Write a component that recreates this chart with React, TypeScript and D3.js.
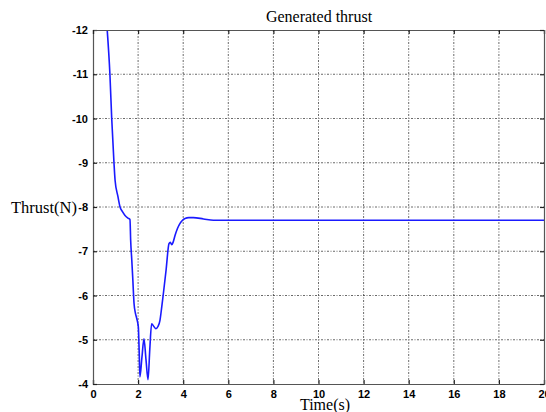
import * as d3 from "d3";
import { useEffect, useRef } from "react";

const width = 546;
const height = 412;

// time (s) and thrust (N)
const time = [0.63, 0.75, 0.83, 0.93, 0.98, 1.1, 1.2, 1.3, 1.42, 1.55, 1.64, 1.67, 1.72, 1.76, 1.82, 1.88, 1.94, 2.01, 2.05, 2.08, 2.17, 2.26, 2.35, 2.44, 2.52, 2.6, 2.7, 2.79, 2.88, 2.97, 3.05, 3.12, 3.24, 3.37, 3.43, 3.49, 3.55, 3.64, 3.75, 3.86, 3.97, 4.08, 4.25, 4.45, 4.9, 5.34, 6, 8, 10, 12, 14, 16, 18, 20];
const thrust = [-12, -11, -10, -9, -8.6, -8.25, -8.0, -7.9, -7.81, -7.75, -7.72, -7.25, -6.8, -6.42, -5.82, -5.6, -5.48, -5.29, -4.7, -4.16, -4.6, -5.02, -4.55, -4.1, -4.8, -5.36, -5.3, -5.25, -5.3, -5.44, -5.75, -6.04, -6.57, -7.17, -7.2, -7.15, -7.2, -7.36, -7.52, -7.63, -7.7, -7.74, -7.76, -7.76, -7.73, -7.7, -7.7, -7.7, -7.7, -7.7, -7.7, -7.7, -7.7, -7.7];
const xTicks = [0, 2, 4, 6, 8, 10, 12, 14, 16, 18, 20];
const yTicks = [-12, -11, -10, -9, -8, -7, -6, -5, -4];

const margin = { top: 30, right: 2, bottom: 28, left: 93 };

const App = () => {
  const ref = useRef<SVGSVGElement>(null);

  useEffect(() => {
    const svg = d3.select(ref.current);
    svg.selectAll("*").remove();

    const x = d3.scaleLinear().domain([0, 20]).range([margin.left, width - margin.right]);
    const y = d3.scaleLinear().domain([-12, -4]).range([margin.top, height - margin.bottom]);
    const [x0, x1] = x.range();
    const [y0, y1] = y.range();

    svg.append("rect").attr("width", width).attr("height", height).attr("fill", "#fff");

    // grid
    const grid = svg.append("g").attr("stroke", "#444").attr("stroke-width", 0.8).attr("stroke-dasharray", "2,1.5,1,1.5");
    grid.selectAll(".gx").data(xTicks.slice(1, -1)).enter().append("line")
      .attr("x1", (d) => x(d)).attr("x2", (d) => x(d)).attr("y1", y0).attr("y2", y1);
    grid.selectAll(".gy").data(yTicks.slice(1, -1)).enter().append("line")
      .attr("y1", (d) => y(d)).attr("y2", (d) => y(d)).attr("x1", x0).attr("x2", x1);

    // line
    svg.append("clipPath").attr("id", "clip").append("rect")
      .attr("x", x0).attr("y", y0).attr("width", x1 - x0).attr("height", y1 - y0);
    const pts = time.map((t, i) => [t, thrust[i]] as [number, number]);
    const line = d3.line<[number, number]>().x((d) => x(d[0])).y((d) => y(d[1])).curve(d3.curveMonotoneX);
    svg.append("path").datum(pts).attr("d", line).attr("fill", "none")
      .attr("stroke", "#1a1aff").attr("stroke-width", 1.6).attr("clip-path", "url(#clip)");

    // axes, ticks inside
    const font = "'Liberation Sans', Arial, sans-serif";
    const fmt = (d: d3.NumberValue) => String(d);
    const bottom = svg.append("g").attr("transform", `translate(0,${y1})`)
      .call(d3.axisBottom(x).tickValues(xTicks).tickSize(-4).tickPadding(6).tickFormat(fmt));
    const left = svg.append("g").attr("transform", `translate(${x0},0)`)
      .call(d3.axisLeft(y).tickValues(yTicks).tickSize(-4).tickPadding(5).tickFormat(fmt));
    const top = svg.append("g").attr("transform", `translate(0,${y0})`)
      .call(d3.axisTop(x).tickValues(xTicks).tickSize(-4).tickFormat(() => ""));
    const right = svg.append("g").attr("transform", `translate(${x1},0)`)
      .call(d3.axisRight(y).tickValues(yTicks).tickSize(-4).tickFormat(() => ""));
    [bottom, left, top, right].forEach((g) => {
      g.select(".domain").attr("stroke", "#555").attr("stroke-width", 1.2);
      g.selectAll(".tick line").attr("stroke", "#222").attr("stroke-width", 1.2);
      g.selectAll(".tick text").attr("font-family", font).attr("font-weight", "bold")
        .attr("font-size", 11).attr("fill", "#000");
    });

    const serif = "'Liberation Serif', 'Times New Roman', serif";
    svg.append("text").attr("x", 319).attr("y", 22).attr("text-anchor", "middle")
      .attr("font-family", serif).attr("font-size", 16).text("Generated thrust");
    svg.append("text").attr("x", 11).attr("y", 213)
      .attr("font-family", serif).attr("font-size", 16.5).text("Thrust(N)");
    svg.append("text").attr("x", 325).attr("y", 410).attr("text-anchor", "middle")
      .attr("font-family", serif).attr("font-size", 16).text("Time(s)");
  }, []);

  return (
    <svg ref={ref} width={width} height={height}
      style={{ position: "absolute", left: 0, top: 0, display: "block" }} />
  );
};

export default App;
